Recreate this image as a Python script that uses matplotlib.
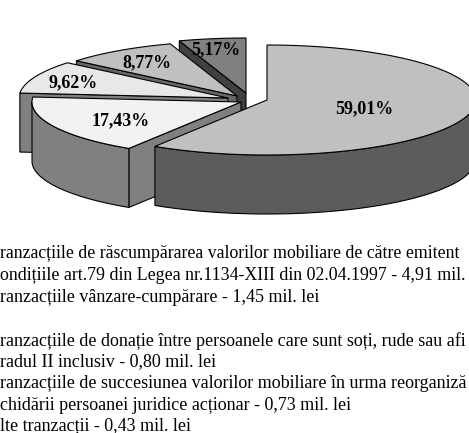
import numpy as np
import matplotlib
matplotlib.use("Agg")
import matplotlib.pyplot as plt

plt.rcParams['font.family'] = ['Liberation Serif', 'DejaVu Serif']

# values clockwise from 12 o'clock
values = [59.01, 17.43, 9.62, 8.77, 5.17]
labels = ["59,01%", "17,43%", "9,62%", "8,77%", "5,17%"]

# the reference crops these lines at both sides, kept as far as they can be read
legend_lines = [
    "ranzacțiile de răscumpărarea valorilor mobiliare de către emitent",
    "ondițiile art.79 din Legea nr.1134-XIII din 02.04.1997 - 4,91 mil.",
    "ranzacțiile vânzare-cumpărare - 1,45 mil. lei",
    "ranzacțiile de donație între persoanele care sunt soți, rude sau afi",
    "radul II inclusiv - 0,80 mil. lei",
    "ranzacțiile de succesiunea valorilor mobiliare în urma reorganiză",
    "chidării persoanei juridice acționar - 0,73 mil. lei",
    "lte tranzacții - 0,43 mil. lei",
]

# look of the pie, in pixels of the picture
rx, ry, depth = 209, 55, 59
centers = [(267, 100), (241, 102), (228, 98), (237, 96), (246, 93)]
top_colors = ["#c0c0c0", "#f2f2f2", "#e8e8e8", "#c0c0c0", "#808080"]
wall_colors = ["#5c5c5c", "#808080", "#808080", "#666666", "#404040"]
label_pos = [(364, 109), (121, 121), (73, 83), (147, 63), (216, 50)]
legend_y = [253, 275, 297, 341, 362, 383, 405, 426]
legend_size = [12.75, 12.85, 13, 13, 13, 13, 13, 13]

fig = plt.figure(figsize=(4.69, 4.33), dpi=100)
ax = fig.add_axes([0, 0, 1, 1])
ax.set_xlim(0, 469)
ax.set_ylim(433, 0)
ax.axis("off")


def rim(c, a0, a1):
    t = np.radians(np.linspace(a0, a1, 80))
    return c[0] + rx * np.sin(t), c[1] - ry * np.cos(t)


edges = np.concatenate([[0], np.cumsum(values)]) / sum(values) * 360

# back slices first, the front ones cover them
for i in [4, 3, 2, 1, 0]:
    c = centers[i]
    a0, a1 = edges[i], edges[i + 1]

    # cut face on the clockwise-first side
    if i > 0:
        x, y = rim(c, a0, a0)
        px = [x[0], c[0], c[0], x[0]]
        py = [y[0], c[1], c[1] + depth, y[0] + depth]
        ax.fill(px, py, color=wall_colors[i], ec="black", lw=0.8)

    # outer wall, lower half of the ellipse only
    w0, w1 = max(a0, 90), min(a1, 270)
    if w1 > w0:
        x, y = rim(c, w0, w1)
        ax.fill(np.r_[x, x[::-1]], np.r_[y, y[::-1] + depth],
                color=wall_colors[i], ec="black", lw=0.8)

    # top
    x, y = rim(c, a0, a1)
    ax.fill(np.r_[c[0], x], np.r_[c[1], y], color=top_colors[i], ec="black", lw=0.8)

for lab, p in zip(labels, label_pos):
    ax.text(p[0], p[1], lab, ha="center", va="center", fontsize=12.9,
            fontweight="bold", color="black")

for line, y, size in zip(legend_lines, legend_y, legend_size):
    ax.text(0, y, line, ha="left", va="center", fontsize=size, color="black")

fig.savefig("out.png", dpi=100)
